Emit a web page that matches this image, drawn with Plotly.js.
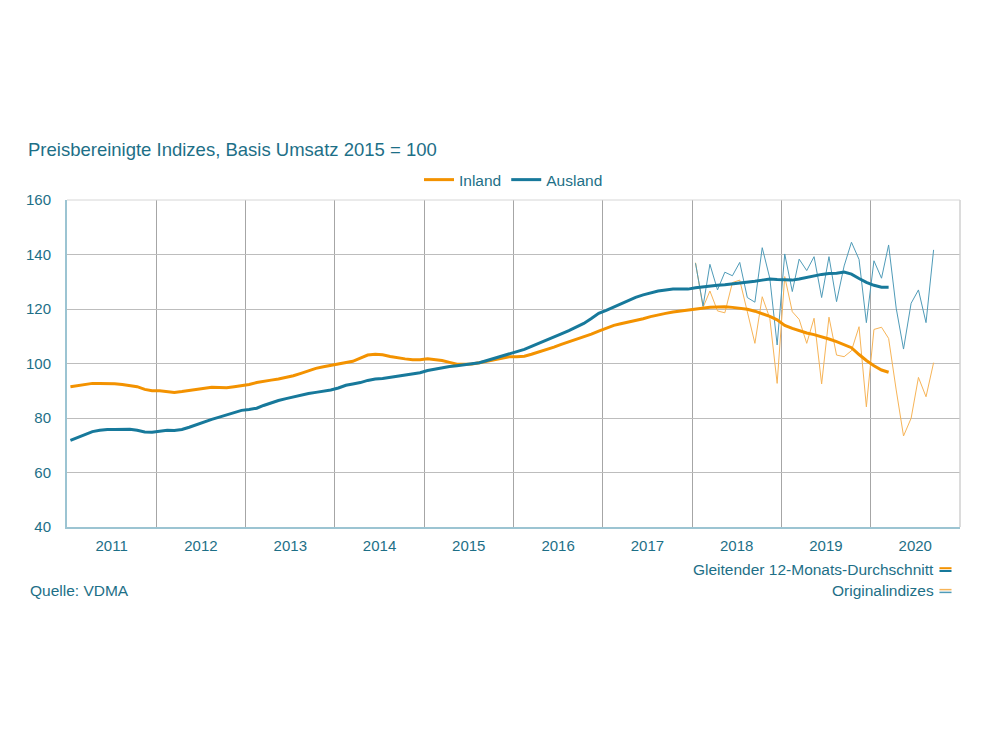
<!DOCTYPE html>
<html>
<head>
<meta charset="utf-8">
<script src="https://cdn.plot.ly/plotly-3.0.1.min.js"></script>
<style>html,body{margin:0;padding:0;background:#fff;}#chart{width:1000px;height:750px;}</style>
</head>
<body>
<div id="chart"></div>
<script>
// Moving average (12-month), monthly from Jan 2011 to Mar 2020
const maStart = [2011, 1];
const inlandMA = [
  91.5, 91.9, 92.4, 92.7, 92.7, 92.7, 92.6, 92.3, 92.0, 91.5, 90.5, 90.0,
  90.0, 89.7, 89.4, 89.7, 90.1, 90.4, 91.0, 91.3, 91.2, 91.1, 91.5, 91.9,
  92.3, 93.0, 93.5, 93.9, 94.3, 94.8, 95.5, 96.4, 97.3, 98.2, 98.8, 99.3,
  99.7, 100.1, 100.8, 102.0, 103.1, 103.4, 103.2, 102.6, 102.0, 101.7, 101.4, 101.4,
  101.7, 101.5, 101.1, 100.4, 99.7, 99.7, 99.8, 100.3, 100.8, 101.4, 102.0, 102.5,
  102.5, 102.7, 103.4, 104.2, 105.0, 106.0, 107.0, 107.9, 108.8, 109.7, 110.8, 111.9,
  113.0, 114.0, 114.6, 115.2, 115.7, 116.4, 117.2, 117.9, 118.4, 118.9, 119.3, 119.6,
  120.1, 120.5, 120.6, 120.7, 120.8, 120.6, 120.2, 119.9, 119.2, 118.4, 117.3, 116.0,
  114.0, 112.9, 112.0, 111.2, 110.6, 109.9, 109.0, 108.0, 107.0, 105.8, 103.3, 101.1,
  99.2, 97.6, 96.8
];
const auslandMA = [
  71.8, 72.9, 74.0, 75.0, 75.5, 75.8, 75.8, 75.9, 75.9, 75.5, 74.9, 74.8,
  75.2, 75.5, 75.4, 75.8, 76.6, 77.6, 78.6, 79.5, 80.3, 81.1, 82.1, 82.8,
  83.1, 83.6, 84.6, 85.6, 86.4, 87.1, 87.8, 88.3, 89.0, 89.4, 89.8, 90.3,
  91.0, 92.0, 92.5, 93.0, 93.8, 94.3, 94.5, 94.9, 95.3, 95.7, 96.1, 96.6,
  97.4, 98.0, 98.4, 98.9, 99.2, 99.5, 99.8, 100.3, 101.1, 101.9, 102.7, 103.6,
  104.4, 105.2, 106.3, 107.4, 108.6, 109.8, 110.9, 112.1, 113.4, 114.7, 116.5, 118.4,
  119.5, 120.7, 122.0, 123.2, 124.3, 125.2, 126.0, 126.6, 127.0, 127.3, 127.3, 127.3,
  127.8, 128.2, 128.4, 128.7, 128.9, 129.2, 129.4, 129.8, 130.2, 130.6, 131.0, 130.8,
  130.6, 130.6, 131.0, 131.6, 132.2, 132.7, 133.0, 133.1, 133.6, 132.8, 131.2, 129.8,
  128.7, 128.0, 128.0
];
// Original indices, monthly from Jan 2018 to Sep 2020
const origStart = [2018, 1];
const inlandOrig = [
  137.0, 120.6, 126.6, 119.3, 118.6, 129.7, 130.6, 119.0, 107.4, 124.5, 116.6, 92.7,
  131.9, 119.0, 116.2, 107.4, 116.6, 92.5, 117.0, 103.1, 102.5, 104.7, 113.5, 84.1,
  112.5, 113.3, 109.2, 90.3, 73.4, 79.9, 94.9, 87.8, 100.3
];
const auslandOrig = [
  136.8, 121.1, 136.4, 127.0, 133.5, 132.2, 137.1, 124.2, 122.5, 142.5, 131.3, 106.8,
  140.2, 126.4, 138.3, 134.1, 139.2, 124.2, 139.2, 122.7, 135.8, 144.5, 138.2, 115.0,
  137.7, 131.3, 143.5, 120.3, 105.3, 122.1, 127.0, 115.0, 141.7
];
const seriesNames = ['Inland', 'Ausland'];
const yTicks = [40, 60, 80, 100, 120, 140, 160];
const titleText = 'Preisbereinigte Indizes, Basis Umsatz 2015 = 100';
const sourceText = 'Quelle: VDMA';
const noteMA = 'Gleitender 12-Monats-Durchschnitt';
const noteOrig = 'Originalindizes';

function months(start, n) {
  const out = [];
  for (let i = 0; i < n; i++) {
    const t = (start[0] * 12 + (start[1] - 1)) + i;
    const y = Math.floor(t / 12), m = t % 12 + 1;
    out.push(y + '-' + String(m).padStart(2, '0') + '-15');
  }
  return out;
}

const ORANGE = '#f39200';
const BLUE = '#17799b';
const ORANGE_L = '#f7b457';
const BLUE_L = '#4f9bb8';
const TEXT = '#1d6f87';
const FONT = 'Liberation Sans, Arial, sans-serif';

const xMA = months(maStart, inlandMA.length);
const xOrig = months(origStart, inlandOrig.length);

const traces = [
  {x: xOrig, y: inlandOrig, type: 'scatter', mode: 'lines', line: {color: ORANGE_L, width: 1}, showlegend: false, hoverinfo: 'skip'},
  {x: xOrig, y: auslandOrig, type: 'scatter', mode: 'lines', line: {color: BLUE_L, width: 1}, showlegend: false, hoverinfo: 'skip'},
  {x: xMA, y: inlandMA, type: 'scatter', mode: 'lines', name: seriesNames[0], line: {color: ORANGE, width: 3}},
  {x: xMA, y: auslandMA, type: 'scatter', mode: 'lines', name: seriesNames[1], line: {color: BLUE, width: 3}}
];

const layout = {
  width: 1000, height: 750,
  paper_bgcolor: '#fff', plot_bgcolor: '#fff',
  margin: {l: 67, r: 40, t: 200, b: 223},
  font: {family: FONT, color: TEXT, size: 14},
  title: {text: titleText, x: 0.028, xanchor: 'left', xref: 'container', y: 0.8, yref: 'container', yanchor: 'middle', font: {family: FONT, size: 18.5, color: TEXT}},
  showlegend: true,
  legend: {orientation: 'h', x: 0.5, xanchor: 'center', y: 1.061, yanchor: 'middle', font: {family: FONT, size: 15.5, color: TEXT}, itemwidth: 30, tracegroupgap: 0},
  xaxis: {
    type: 'date',
    range: ['2011-01-01', '2021-01-01'],
    tick0: '2011-01-01', dtick: 'M12',
    tickformat: '%Y', ticklabelmode: 'period',
    showgrid: true, gridcolor: '#a6a6a6', gridwidth: 1,
    showline: true, linecolor: '#9cc4d2', linewidth: 2,
    ticks: '', ticklabelstandoff: 4, tickfont: {family: FONT, size: 15, color: TEXT},
    zeroline: false, fixedrange: true
  },
  yaxis: {
    range: [40, 160], tickvals: yTicks,
    showgrid: true, gridcolor: '#bdbdbd', gridwidth: 1,
    showline: true, linecolor: '#9cc4d2', linewidth: 2,
    ticks: '', ticklen: 0, ticklabelstandoff: 11, tickfont: {family: FONT, size: 15, color: TEXT},
    zeroline: false, fixedrange: true
  },
  shapes: [
    {type: 'line', xref: 'paper', yref: 'paper', x0: 1, x1: 1, y0: 0, y1: 1, line: {color: '#d0d0d0', width: 1.5}},
    {type: 'line', xref: 'paper', yref: 'paper', x0: 0, x1: 1, y0: 1, y1: 1, line: {color: '#d6d6d6', width: 1}},
    // legend keys for the notes
    {type: 'line', xref: 'paper', yref: 'paper', x0: 0.9770, x1: 0.9905, y0: -0.1260, y1: -0.1260, line: {color: ORANGE, width: 2}},
    {type: 'line', xref: 'paper', yref: 'paper', x0: 0.9770, x1: 0.9905, y0: -0.1345, y1: -0.1345, line: {color: BLUE, width: 2}},
    {type: 'line', xref: 'paper', yref: 'paper', x0: 0.9770, x1: 0.9905, y0: -0.1915, y1: -0.1915, line: {color: ORANGE_L, width: 1.5}},
    {type: 'line', xref: 'paper', yref: 'paper', x0: 0.9770, x1: 0.9905, y0: -0.2000, y1: -0.2000, line: {color: BLUE_L, width: 1.5}}
  ],
  annotations: [
    {text: noteMA, xref: 'paper', yref: 'paper', x: 0.973, y: -0.130, xanchor: 'right', yanchor: 'middle', showarrow: false, font: {family: FONT, size: 15.5, color: TEXT}},
    {text: noteOrig, xref: 'paper', yref: 'paper', x: 0.973, y: -0.1955, xanchor: 'right', yanchor: 'middle', showarrow: false, font: {family: FONT, size: 15.5, color: TEXT}},
    {text: sourceText, xref: 'paper', yref: 'paper', x: -0.0435, y: -0.1955, xanchor: 'left', yanchor: 'middle', showarrow: false, font: {family: FONT, size: 15.5, color: TEXT}}
  ]
};

Plotly.newPlot('chart', traces, layout, {displayModeBar: false, staticPlot: true});
</script>
</body>
</html>
